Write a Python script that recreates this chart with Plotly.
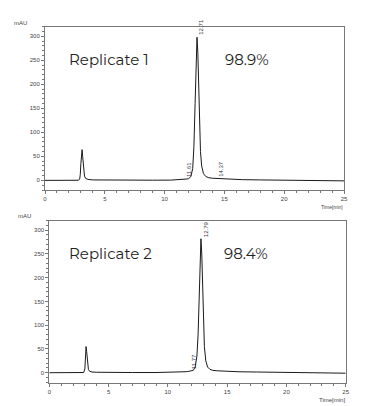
import plotly.graph_objects as go

# Replicate 1 chromatogram (time in min, absorbance in mAU)
t1 = [0, 1, 2, 2.8, 2.9, 2.95, 3.0, 3.05, 3.1, 3.15, 3.2, 3.25, 3.3, 3.4, 3.6, 4.0, 5, 7, 9, 10.5, 11.2,
      11.5, 11.61, 11.8, 12.0, 12.2, 12.35, 12.45, 12.55, 12.62, 12.71, 12.78, 12.85, 12.92, 13.0, 13.1,
      13.25, 13.45, 13.7, 14.0, 14.37, 14.8, 15.5, 16.5, 18, 20, 22, 24, 25]
a1 = [0, 0, 0, 0.3, 3, 12, 35, 58, 64, 50, 30, 16, 9, 4, 2, 1, 0.6, 0.4, 0.4, 0.6, 1.2,
      2, 2.5, 2.8, 3.5, 8, 25, 70, 160, 250, 298, 265, 195, 120, 60, 30,
      14, 8, 5.5, 4.5, 4, 3, 2, 1.5, 1, 0.5, 0, -0.5, -1]

# Replicate 2 chromatogram
t2 = [0, 1, 2, 2.9, 3.0, 3.05, 3.1, 3.15, 3.2, 3.25, 3.3, 3.4, 3.6, 4.0, 5, 7, 9, 10.5, 11.3,
      11.6, 11.77, 11.95, 12.15, 12.3, 12.45, 12.55, 12.65, 12.72, 12.79, 12.86, 12.93, 13.0, 13.08, 13.2,
      13.35, 13.55, 13.8, 14.2, 14.6, 15.2, 16, 17.5, 19, 21, 23, 25]
a2 = [0, 0, 0, 0.4, 8, 30, 55, 45, 26, 13, 7, 3, 1.5, 1, 0.5, 0.4, 0.4, 0.6, 1.3,
      2.2, 3, 3.3, 5, 12, 35, 80, 170, 240, 282, 250, 180, 110, 55, 25,
      12, 7, 5, 4, 3.5, 3, 2, 1.5, 1, 0.5, -0.5, -1]

peaks1_t = [11.61, 12.71, 14.37]
peaks1_a = [2.5, 298, 4]
peaks1_lbl = ["11.61", "12.71", "14.37"]
peaks2_t = [11.77, 12.79]
peaks2_a = [3, 282]
peaks2_lbl = ["11.77", "12.79"]

replicates = ["Replicate 1", "Replicate 2"]
purities = ["98.9%", "98.4%"]

x_ticks = [0, 5, 10, 15, 20, 25]
y_ticks = [0, 50, 100, 150, 200, 250, 300]

W, H = 370, 406
OFF = 8  # default page body margin
def px_x(p): return (p - OFF) / W
def px_y(p): return 1 - (p - OFF) / H

fig = go.Figure()
fig.add_trace(go.Scatter(x=t1, y=a1, mode="lines", line=dict(color="#1a1a1a", width=1),
                         xaxis="x", yaxis="y", showlegend=False, hoverinfo="skip"))
fig.add_trace(go.Scatter(x=t2, y=a2, mode="lines", line=dict(color="#1a1a1a", width=1),
                         xaxis="x2", yaxis="y2", showlegend=False, hoverinfo="skip"))

tickfont = dict(family="Liberation Sans", size=6, color="#444")
axis_common = dict(showline=True, linecolor="#777", linewidth=1, mirror=True, showgrid=False,
                   zeroline=False, ticks="outside", ticklen=3, tickcolor="#777", tickfont=tickfont,
                   automargin=False)

fig.update_layout(
    width=W, height=H, margin=dict(l=0, r=0, t=0, b=0, autoexpand=False),
    plot_bgcolor="white", paper_bgcolor="white",
    xaxis=dict(domain=[px_x(45), px_x(344)], range=[0, 25], anchor="y", tickvals=x_ticks,
               minor=dict(dtick=1, ticks="outside", ticklen=2, tickcolor="#777"), **axis_common),
    yaxis=dict(domain=[px_y(190), px_y(26.7)], range=[-20, 320], anchor="x", tickvals=y_ticks,
               minor=dict(dtick=10, ticks="outside", ticklen=2, tickcolor="#777"), **axis_common),
    xaxis2=dict(domain=[px_x(49.3), px_x(345.7)], range=[0, 25], anchor="y2", tickvals=x_ticks,
                minor=dict(dtick=1, ticks="outside", ticklen=2, tickcolor="#777"), **axis_common),
    yaxis2=dict(domain=[px_y(382.7), px_y(220.7)], range=[-21, 320], anchor="x2", tickvals=y_ticks,
                minor=dict(dtick=10, ticks="outside", ticklen=2, tickcolor="#777"), **axis_common),
)

ann = []
labfont = dict(family="Montserrat, Lato, sans-serif", size=15, color="#222")
for i, (xa, ya) in enumerate([("x", "y"), ("x2", "y2")]):
    ann.append(dict(x=1.8 if i == 0 else 1.5, y=251, xref=xa, yref=ya, text=replicates[i],
                    showarrow=False, xanchor="left", yanchor="middle", font=labfont))
    ann.append(dict(x=14.85 if i == 0 else 14.55, y=251, xref=xa, yref=ya, text=purities[i],
                    showarrow=False, xanchor="left", yanchor="middle", font=labfont))

pfont = dict(family="Liberation Sans", size=6, color="#334")
for t, a, l in zip(peaks1_t, peaks1_a, peaks1_lbl):
    ann.append(dict(x=t, y=a, xref="x", yref="y", text=l, textangle=-90, showarrow=False,
                    xanchor="center", yanchor="bottom", xshift=4.5, yshift=0, font=pfont))
for t, a, l in zip(peaks2_t, peaks2_a, peaks2_lbl):
    ann.append(dict(x=t, y=a, xref="x2", yref="y2", text=l, textangle=-90, showarrow=False,
                    xanchor="center", yanchor="bottom", xshift=4.5, yshift=0, font=pfont))

# axis unit labels
ufont = dict(family="Liberation Sans", size=6, color="#444")
ann.append(dict(x=px_x(20), y=px_y(23), xref="paper", yref="paper", text="mAU", showarrow=False,
                xanchor="center", yanchor="middle", font=ufont))
ann.append(dict(x=px_x(24), y=px_y(216), xref="paper", yref="paper", text="mAU", showarrow=False,
                xanchor="center", yanchor="middle", font=ufont))
ann.append(dict(x=px_x(345), y=px_y(202), xref="paper", yref="paper", text="Time[min]", showarrow=False,
                xanchor="right", yanchor="top", font=dict(family="Liberation Sans", size=5, color="#444")))
ann.append(dict(x=px_x(347), y=px_y(395), xref="paper", yref="paper", text="Time[min]", showarrow=False,
                xanchor="right", yanchor="top", font=ufont))
fig.update_layout(annotations=ann)

fig.write_html("out.html")
